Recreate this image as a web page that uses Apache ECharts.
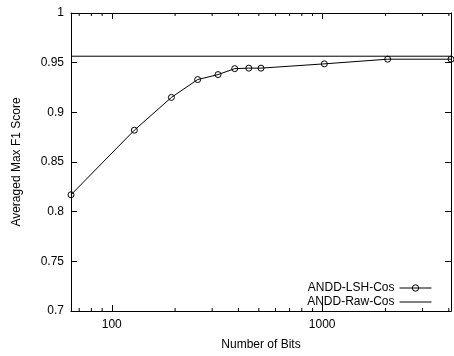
<!DOCTYPE html>
<html>
<head>
<meta charset="utf-8">
<script src="https://cdn.jsdelivr.net/npm/echarts@6/dist/echarts.min.js"></script>
<style>
  html, body { margin: 0; padding: 0; background: #fff; }
  #chart { width: 454px; height: 356px; }
</style>
</head>
<body>
<div id="chart"></div>
<script>
// data
const bits = [64, 128, 192, 256, 320, 384, 448, 512, 1024, 2048, 4096];
const lshCos = [0.817, 0.882, 0.915, 0.933, 0.938, 0.944, 0.9445, 0.9445, 0.9488, 0.9535, 0.9535];
const rawCosBits = [64, 4096];
const rawCos = [0.9565, 0.9565];
const minorTicks = [70, 80, 90, 200, 300, 400, 500, 600, 700, 800, 900, 2000, 3000, 4000];

const FONT = 'Liberation Sans';
const black = '#000';

const chart = echarts.init(document.getElementById('chart'));

const powerOfTen = (v) => {
  const l = Math.log10(v);
  return Math.abs(l - Math.round(l)) < 1e-6 ? String(Math.round(v)) : '';
};

const xBase = {
  type: 'log',
  logBase: 10,
  min: 64,
  max: 4096,
  axisLine: { show: true, lineStyle: { color: black, width: 1 } },
  splitLine: { show: false },
  axisTick: {
    show: true, inside: true, length: 6,
    lineStyle: { color: black },
    interval: (i, v) => powerOfTen(v) !== ''
  }
};

const yBase = {
  type: 'value',
  min: 0.7,
  max: 1,
  interval: 0.05,
  axisLine: { show: true, lineStyle: { color: black, width: 1 } },
  splitLine: { show: false },
  axisTick: { show: true, inside: true, length: 6, lineStyle: { color: black } }
};

const option = {
  animation: false,
  backgroundColor: '#fff',
  textStyle: { fontFamily: FONT },
  grid: { left: 71, right: 3, top: 13, bottom: 42 },
  legend: {
    data: ['ANDD-LSH-Cos', 'ANDD-Raw-Cos'],
    orient: 'vertical',
    align: 'right',
    right: 17,
    top: 277,
    itemWidth: 32,
    itemHeight: 8,
    itemGap: 2,
    lineStyle: { width: 1, color: black },
    itemStyle: { borderWidth: 1 },
    textStyle: { fontFamily: FONT, fontSize: 12, color: black }
  },
  xAxis: [
    Object.assign({}, xBase, {
      position: 'bottom',
      name: 'Number of Bits',
      nameLocation: 'middle',
      nameGap: 28,
      nameTextStyle: { fontFamily: FONT, fontSize: 12, color: black },
      axisLabel: { margin: 8, fontFamily: FONT, fontSize: 12, color: black, formatter: powerOfTen }
    }),
    Object.assign({}, xBase, {
      position: 'top',
      axisLabel: { show: false }
    })
  ],
  yAxis: [
    Object.assign({}, yBase, {
      position: 'left',
      name: 'Averaged Max F1 Score',
      nameLocation: 'middle',
      nameGap: 48,
      nameTextStyle: { fontFamily: FONT, fontSize: 12, color: black },
      axisLabel: { margin: 7, fontFamily: FONT, fontSize: 12, color: black }
    }),
    Object.assign({}, yBase, {
      position: 'right',
      axisLabel: { show: false }
    })
  ],
  series: [
    {
      name: 'ANDD-LSH-Cos',
      type: 'line',
      data: bits.map((b, i) => [b, lshCos[i]]),
      symbol: 'circle',
      symbolSize: 6,
      lineStyle: { color: black, width: 1 },
      itemStyle: { color: 'transparent', borderColor: black, borderWidth: 1 },
      z: 3
    },
    {
      name: 'ANDD-Raw-Cos',
      type: 'line',
      data: rawCosBits.map((b, i) => [b, rawCos[i]]),
      symbol: 'none',
      lineStyle: { color: black, width: 1 },
      itemStyle: { color: 'transparent', borderColor: 'transparent', borderWidth: 0 },
      z: 2
    },
    {
      // minor log ticks on bottom and top edges
      type: 'custom',
      silent: true,
      data: minorTicks.map((v) => [v, 0.7]),
      encode: { x: 0, y: 1 },
      renderItem: (params, api) => {
        const v = api.value(0);
        const b = api.coord([v, 0.7]);
        const t = api.coord([v, 1]);
        return {
          type: 'group',
          children: [
            { type: 'line', shape: { x1: b[0], y1: b[1], x2: b[0], y2: b[1] - 3 }, style: { stroke: black, lineWidth: 1 } },
            { type: 'line', shape: { x1: t[0], y1: t[1], x2: t[0], y2: t[1] + 3 }, style: { stroke: black, lineWidth: 1 } }
          ]
        };
      }
    }
  ]
};

chart.setOption(option);
</script>
</body>
</html>
